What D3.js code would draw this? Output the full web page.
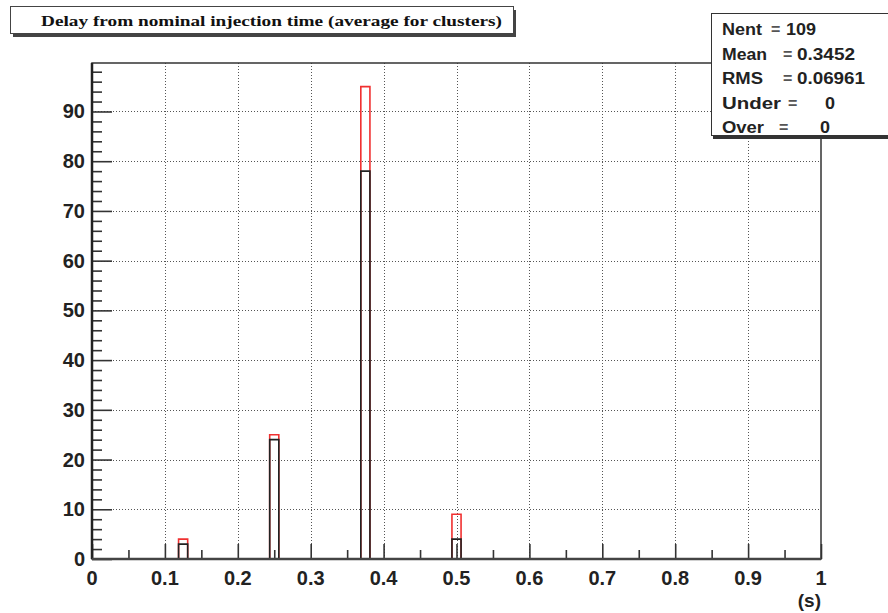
<!DOCTYPE html>
<html>
<head>
<meta charset="utf-8">
<script src="https://cdn.jsdelivr.net/npm/d3@7"></script>
<style>
  body { margin: 0; background: #fff; }
  svg { display: block; }
  .lab { font-family: "Liberation Sans", Arial, sans-serif; font-weight: bold; fill: #222; }
</style>
</head>
<body>
<div id="chart"></div>
<script>
// histogram contents (bin centers and counts)
var binCenters = [0.125, 0.25, 0.375, 0.5];
var redCounts = [4, 25, 95, 9];
var blackCounts = [3, 24, 78, 4];
var binWidth = 0.0125;

var xTickValues = [0, 0.1, 0.2, 0.3, 0.4, 0.5, 0.6, 0.7, 0.8, 0.9, 1];
var xTickLabels = ["0", "0.1", "0.2", "0.3", "0.4", "0.5", "0.6", "0.7", "0.8", "0.9", "1"];
var yTickValues = [0, 10, 20, 30, 40, 50, 60, 70, 80, 90];

var titleText = "Delay from nominal injection time (average for clusters)";
var statNames = ["Nent", "Mean", "RMS", "Under", "Over"];
var statValues = ["109", "0.3452", "0.06961", "0", "0"];

function init() {
    var W = 888, H = 613;
    var frame = {left: 92, right: 821, top: 63, bottom: 559};

    var x = d3.scaleLinear().domain([0, 1]).range([frame.left, frame.right]);
    var y = d3.scaleLinear().domain([0, 99.75]).range([frame.bottom, frame.top]);

    var svg = d3.select("#chart").append("svg")
        .attr("width", W)
        .attr("height", H);

    // dotted grid
    var grid = svg.append("g").attr("stroke", "#555").attr("stroke-width", 1)
        .attr("stroke-dasharray", "1,2");
    grid.selectAll("line.vx").data(xTickValues.slice(1, -1)).enter().append("line")
        .attr("x1", function(d) { return Math.round(x(d)) + 0.5; })
        .attr("x2", function(d) { return Math.round(x(d)) + 0.5; })
        .attr("y1", frame.top).attr("y2", frame.bottom);
    grid.selectAll("line.hy").data(yTickValues.slice(1)).enter().append("line")
        .attr("y1", function(d) { return Math.round(y(d)) + 0.5; })
        .attr("y2", function(d) { return Math.round(y(d)) + 0.5; })
        .attr("x1", frame.left).attr("x2", frame.right);

    // histograms drawn as step outlines across the whole range
    function stepPoints(counts) {
        var pts = [[0, 0]];
        binCenters.forEach(function(c, i) {
            var lo = c - binWidth / 2, hi = c + binWidth / 2;
            pts.push([lo, 0], [lo, counts[i]], [hi, counts[i]], [hi, 0]);
        });
        pts.push([1, 0]);
        return pts;
    }
    var line = d3.line()
        .x(function(d) { return x(d[0]); })
        .y(function(d) { return y(d[1]); });

    svg.append("path")
        .attr("d", line(stepPoints(redCounts)))
        .attr("fill", "none")
        .attr("stroke", "#f03030")
        .attr("stroke-width", 1.6);
    svg.append("path")
        .attr("d", line(stepPoints(blackCounts)))
        .attr("fill", "none")
        .attr("stroke", "#222")
        .attr("stroke-width", 1.6);

    // axes: ROOT-like ticks pointing into the frame
    var xAxis = d3.axisTop(x).tickValues(xTickValues).tickSize(15).tickFormat("");
    var xMinor = d3.axisTop(x).tickValues(d3.range(0.05, 1, 0.1)).tickSize(9).tickFormat("");
    var yAxis = d3.axisRight(y).tickValues(yTickValues).tickSize(20).tickFormat("");
    var yMinor = d3.axisRight(y).tickValues(d3.range(2, 99, 2).filter(function(v) { return v % 10 !== 0; }))
        .tickSize(10).tickFormat("");

    [[xAxis, "translate(0," + frame.bottom + ")"], [xMinor, "translate(0," + frame.bottom + ")"],
     [yAxis, "translate(" + frame.left + ",0)"], [yMinor, "translate(" + frame.left + ",0)"]].forEach(function(a) {
        var g = svg.append("g").attr("transform", a[1]).call(a[0]);
        g.select(".domain").remove();
        g.selectAll("line").attr("stroke", "#333").attr("stroke-width", 1.6);
    });

    // frame
    svg.append("rect")
        .attr("x", frame.left).attr("y", frame.top)
        .attr("width", frame.right - frame.left).attr("height", frame.bottom - frame.top)
        .attr("fill", "none").attr("stroke", "#333").attr("stroke-width", 1.5);
    svg.append("line")
        .attr("x1", frame.left).attr("x2", frame.left)
        .attr("y1", frame.top).attr("y2", frame.bottom)
        .attr("stroke", "#222").attr("stroke-width", 2.5);
    svg.append("line")
        .attr("x1", frame.left).attr("x2", frame.right)
        .attr("y1", frame.bottom).attr("y2", frame.bottom)
        .attr("stroke", "#444").attr("stroke-width", 2.5);

    // tick labels
    svg.selectAll("text.xl").data(xTickValues).enter().append("text")
        .attr("class", "lab")
        .attr("x", function(d) { return x(d); })
        .attr("y", 585)
        .attr("text-anchor", "middle")
        .style("font-size", "20px")
        .text(function(d, i) { return xTickLabels[i]; });
    svg.selectAll("text.yl").data(yTickValues).enter().append("text")
        .attr("class", "lab")
        .attr("x", 85)
        .attr("y", function(d) { return y(d) + 7; })
        .attr("text-anchor", "end")
        .style("font-size", "20px")
        .text(function(d) { return d; });

    svg.append("text")
        .attr("class", "lab")
        .attr("x", 821).attr("y", 607)
        .attr("text-anchor", "end")
        .style("font-size", "19px")
        .text("(s)");

    // title box with shadow
    svg.append("rect").attr("x", 13).attr("y", 10).attr("width", 503).attr("height", 27).attr("fill", "#444");
    svg.append("rect").attr("x", 10.5).attr("y", 6.5).attr("width", 503).attr("height", 27)
        .attr("fill", "#fff").attr("stroke", "#444").attr("stroke-width", 1);
    svg.append("text")
        .attr("x", 41).attr("y", 26)
        .attr("textLength", 461).attr("lengthAdjust", "spacingAndGlyphs")
        .style("font-family", "'Liberation Serif', 'Times New Roman', serif")
        .style("font-weight", "bold")
        .style("font-size", "14px")
        .attr("fill", "#111")
        .text(titleText);

    // stats box
    svg.append("rect").attr("x", 713).attr("y", 16).attr("width", 180).attr("height", 123).attr("fill", "#333");
    svg.append("rect").attr("x", 711.5).attr("y", 13.5).attr("width", 180).attr("height", 122)
        .attr("fill", "#fff").attr("stroke", "#333").attr("stroke-width", 1);

    var nameW = [40, 45, 41, 59, 42];
    var eqX = [771, 783, 783, 788, 779];
    var valX = [786, 797, 797, 825, 820];
    var valW = [30, 58, 68, 10, 10];
    var rows = svg.append("g").attr("class", "lab").style("font-size", "16px");
    statNames.forEach(function(name, i) {
        var by = 35 + i * 24.5;
        rows.append("text").attr("x", 722).attr("y", by)
            .attr("textLength", nameW[i]).attr("lengthAdjust", "spacingAndGlyphs").text(name);
        rows.append("text").attr("x", eqX[i]).attr("y", by).style("fill", "#555").text("=");
        rows.append("text").attr("x", valX[i]).attr("y", by)
            .attr("textLength", valW[i]).attr("lengthAdjust", "spacingAndGlyphs").text(statValues[i]);
    });
}
init();
</script>
</body>
</html>
